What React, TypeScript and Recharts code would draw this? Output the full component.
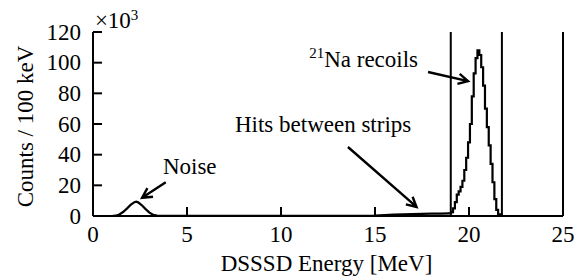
import React from 'react';
import { LineChart, Line, XAxis, YAxis, ReferenceLine, ReferenceDot } from 'recharts';

const FONT = '"Liberation Serif", "Times New Roman", Times, serif';
const FS = 23;

// Energies (MeV) and counts (x10^3 per 100 keV): noise + hits-between-strips part
const lowEnergy = [0, 1.0, 1.2, 1.4, 1.6, 1.8, 2.0, 2.2, 2.3, 2.4, 2.6, 2.8, 3.0, 3.2, 3.4, 3.6, 5, 10, 14.5, 15.0, 15.5, 16, 16.5, 17, 17.5, 18, 18.5, 18.95];
const lowCounts = [0, 0, 0.2, 1.0, 2.6, 4.8, 7.2, 9.0, 9.3, 8.9, 7.0, 4.5, 2.2, 0.8, 0.2, 0.05, 0.05, 0.1, 0.15, 0.3, 0.6, 0.9, 1.1, 1.3, 1.4, 1.5, 1.6, 1.7];

// 21Na recoil peak, 100 keV bins
const peakEnergy = [18.95, 19.0, 19.1, 19.2, 19.3, 19.4, 19.5, 19.6, 19.7, 19.8, 19.9, 20.0, 20.1, 20.2, 20.3, 20.4, 20.5, 20.6, 20.7, 20.8, 20.9, 21.0, 21.1, 21.2, 21.3, 21.4, 21.5, 21.6, 21.7, 21.8, 25];
const peakCounts = [1.7, 1.8, 2.5, 5, 9, 14, 16, 19, 23, 30, 38, 48, 60, 78, 93, 103, 108, 105, 97, 85, 70, 58, 46, 34, 22, 11, 4, 1, 0.1, 0, 0];

const xTicks = [0, 5, 10, 15, 20, 25];
const yTicks = [0, 20, 40, 60, 80, 100, 120];
const gateLow = 19.03;
const gateHigh = 21.75;

const lowData = lowEnergy.map((e, i) => ({ e, c: lowCounts[i] }));
const peakData = peakEnergy.map((e, i) => ({ e, c: peakCounts[i] }));

const TICK_LEN = 9;

const BottomTick = ({ x, y, payload }: any) => (
  <g>
    <line x1={x} y1={y} x2={x} y2={y - TICK_LEN} stroke="#000" strokeWidth={2} />
    <text x={x} y={y + 26} textAnchor="middle" fontSize={FS} fontFamily={FONT} fill="#000">{payload.value}</text>
  </g>
);
const TopTick = ({ x, y }: any) => (
  <line x1={x} y1={y} x2={x} y2={y + TICK_LEN} stroke="#000" strokeWidth={2} />
);
const LeftTick = ({ x, y, payload }: any) => (
  <g>
    <line x1={x} y1={y} x2={x + TICK_LEN} y2={y} stroke="#000" strokeWidth={2} />
    <text x={x - 12} y={y + 7.5} textAnchor="end" fontSize={FS} fontFamily={FONT} fill="#000">{payload.value}</text>
  </g>
);
const RightTick = ({ x, y }: any) => (
  <line x1={x} y1={y} x2={x - TICK_LEN} y2={y} stroke="#000" strokeWidth={2} />
);

const XTitle = (props: any) => {
  const vb = props.viewBox || {};
  return (
    <text x={vb.x + vb.width / 2 - 1.5} y={vb.y + 55} textAnchor="middle" fontSize={FS} fontFamily={FONT} fill="#000">
      DSSSD Energy [MeV]
    </text>
  );
};
const YTitle = (props: any) => {
  const vb = props.viewBox || {};
  const cx = vb.x + 33;
  const cy = vb.y + vb.height / 2 + 2.5;
  return (
    <text x={cx} y={cy} transform={`rotate(-90 ${cx} ${cy})`} textAnchor="middle" fontSize={FS} fontFamily={FONT} fill="#000">
      Counts / 100 keV
    </text>
  );
};

const Arrow = (props: any) => {
  const { x1, y1, x2, y2 } = props;
  const ang = Math.atan2(y2 - y1, x2 - x1);
  const L = 11;
  const s = Math.PI / 6.5;
  const ax1 = x2 - L * Math.cos(ang - s);
  const ay1 = y2 - L * Math.sin(ang - s);
  const ax2 = x2 - L * Math.cos(ang + s);
  const ay2 = y2 - L * Math.sin(ang + s);
  return (
    <path
      d={`M${x1},${y1}L${x2},${y2}M${ax1},${ay1}L${x2},${y2}L${ax2},${ay2}`}
      stroke="#000"
      strokeWidth={2.4}
      fill="none"
    />
  );
};

const makeText = (label: React.ReactNode, anchor: string) => (p: any) => (
  <text x={p.cx} y={p.cy} textAnchor={anchor} fontSize={FS} fontFamily={FONT} fill="#000">{label}</text>
);

const noiseLabel = makeText('Noise', 'start');
const hitsLabel = makeText('Hits between strips', 'start');
const recoilLabel = makeText(
  <>
    <tspan fontSize={15} dy={-9}>21</tspan>
    <tspan dy={9}>Na recoils</tspan>
  </>,
  'end'
);
const scaleLabel = makeText(
  <>
    <tspan>×10</tspan>
    <tspan fontSize={15} dy={-8}>3</tspan>
  </>,
  'start'
);

export default function App() {
  return (
    <div style={{ position: 'absolute', left: 0, top: 0, fontFamily: FONT }}>
      <LineChart width={583} height={278} margin={{ top: 32, right: 0, bottom: 0, left: 0 }}>
        <XAxis
          dataKey="e"
          type="number"
          domain={[0, 25]}
          ticks={xTicks}
          height={62}
          tickSize={0}
          tickMargin={0}
          tickLine={false}
          axisLine={{ stroke: '#000', strokeWidth: 2 }}
          tick={<BottomTick />}
          interval={0}
          label={<XTitle />}
        />
        <XAxis
          xAxisId="top"
          orientation="top"
          dataKey="e"
          type="number"
          domain={[0, 25]}
          ticks={xTicks}
          height={0}
          tickSize={0}
          tickMargin={0}
          tickLine={false}
          axisLine={{ stroke: '#000', strokeWidth: 2 }}
          tick={<TopTick />}
          interval={0}
        />
        <YAxis
          type="number"
          domain={[0, 120]}
          ticks={yTicks}
          width={93}
          tickSize={0}
          tickMargin={0}
          tickLine={false}
          axisLine={{ stroke: '#000', strokeWidth: 2 }}
          tick={<LeftTick />}
          interval={0}
          label={<YTitle />}
        />
        <YAxis
          yAxisId="right"
          orientation="right"
          type="number"
          domain={[0, 120]}
          ticks={yTicks}
          width={20}
          tickSize={0}
          tickMargin={0}
          tickLine={false}
          axisLine={{ stroke: '#000', strokeWidth: 2 }}
          tick={<RightTick />}
          interval={0}
        />
        <ReferenceLine x={gateLow} stroke="#000" strokeWidth={2} />
        <ReferenceLine x={gateHigh} stroke="#000" strokeWidth={2} />
        <Line data={lowData} dataKey="c" type="linear" stroke="#000" strokeWidth={2.2} dot={false} isAnimationActive={false} />
        <Line data={peakData} dataKey="c" type="step" stroke="#000" strokeWidth={2.2} dot={false} isAnimationActive={false} />
        <ReferenceLine segment={[{ x: 3.87, y: 22.0 }, { x: 2.61, y: 11.9 }]} shape={Arrow} ifOverflow="visible" />
        <ReferenceLine segment={[{ x: 13.56, y: 45.0 }, { x: 17.21, y: 5.9 }]} shape={Arrow} ifOverflow="visible" />
        <ReferenceLine segment={[{ x: 17.82, y: 93.9 }, { x: 19.95, y: 88.0 }]} shape={Arrow} ifOverflow="visible" />
        <ReferenceDot x={3.72} y={27.4} r={0} shape={noiseLabel} ifOverflow="visible" />
        <ReferenceDot x={7.55} y={54.8} r={0} shape={hitsLabel} ifOverflow="visible" />
        <ReferenceDot x={17.29} y={97.4} r={0} shape={recoilLabel} ifOverflow="visible" />
        <ReferenceDot x={0.1} y={122.6} r={0} shape={scaleLabel} ifOverflow="visible" />
      </LineChart>
    </div>
  );
}
